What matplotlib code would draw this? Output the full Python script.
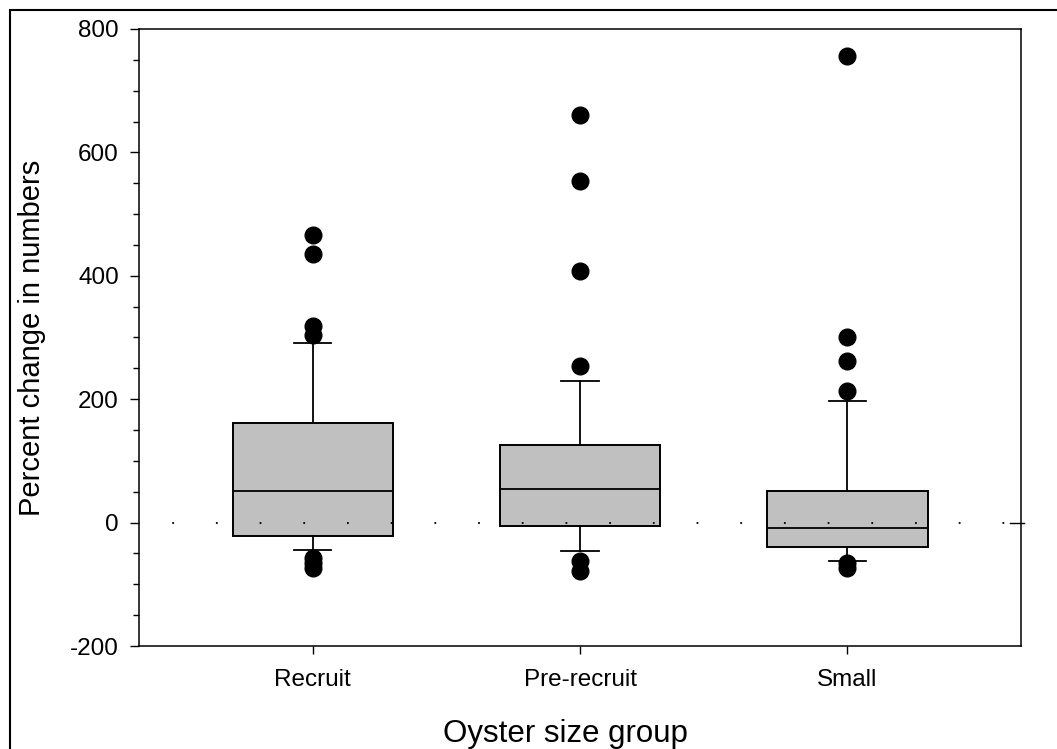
import matplotlib
matplotlib.use("Agg")
import matplotlib.pyplot as plt
from matplotlib.patches import Rectangle
from matplotlib.ticker import MultipleLocator

plt.rcParams['font.family'] = ['Liberation Sans', 'DejaVu Sans']
plt.rcParams['axes.unicode_minus'] = False

# Box statistics (percent change)
groups = ['Recruit', 'Pre-recruit', 'Small']
q1 = [-21, -5, -39]
medians = [52, 55, -9]
q3 = [162, 126, 52]
whis_low = [-44, -46, -62]
whis_high = [291, 230, 197]
outliers = [
    [466, 436, 318, 304, -58, -66, -73],
    [660, 553, 408, 253, -63, -79],
    [757, 301, 262, 213, -65, -74],
]

stats = []
for i, g in enumerate(groups):
    stats.append(dict(label=g, q1=q1[i], med=medians[i], q3=q3[i],
                      whislo=whis_low[i], whishi=whis_high[i],
                      fliers=outliers[i]))

fig = plt.figure(figsize=(10.57, 7.49), dpi=100)
ax = fig.add_axes([0.1315, 0.1375, 0.8345, 0.8238])

ax.bxp(stats, positions=[1, 2, 3], widths=0.6, capwidths=0.14,
       patch_artist=True, showfliers=True,
       boxprops=dict(facecolor='#c0c0c0', edgecolor='black', linewidth=1.4),
       medianprops=dict(color='black', linewidth=1.3),
       whiskerprops=dict(color='black', linewidth=1.3),
       capprops=dict(color='black', linewidth=1.3),
       flierprops=dict(marker='o', markerfacecolor='black',
                       markeredgecolor='black', markersize=12))

# dotted reference line at zero
ax.axhline(0, color='black', lw=1.3, linestyle=(5.8, (1.0, 23.2)), zorder=5)
ax.axhline(0, xmin=0.987, xmax=1.003, color='black', lw=1.0, clip_on=False)

ax.set_xlim(0.35, 3.65)
ax.set_ylim(-200, 800)
ax.yaxis.set_major_locator(MultipleLocator(200))
ax.yaxis.set_minor_locator(MultipleLocator(50))
ax.tick_params(axis='y', which='major', length=6.5, width=1.0, direction='out',
               labelsize=17.5, pad=8)
ax.tick_params(axis='y', which='minor', length=4.3, width=1.0, direction='out')
ax.tick_params(axis='x', which='major', length=5.5, width=1.0, direction='out',
               labelsize=17.5, pad=11)
for s in ax.spines.values():
    s.set_linewidth(1.1)

ax.set_xlabel('Oyster size group', fontsize=22.5, labelpad=20)
ax.xaxis.label.set_x(0.483)
ax.set_ylabel('Percent change in numbers', fontsize=21, labelpad=17)

# outer frame of the figure
fig.patches.append(Rectangle((10 / 1057, -0.5), 2, 1.5 - 10 / 749, transform=fig.transFigure,
                             fill=False, edgecolor='black', linewidth=1.5))

fig.savefig('out.png', dpi=100)
